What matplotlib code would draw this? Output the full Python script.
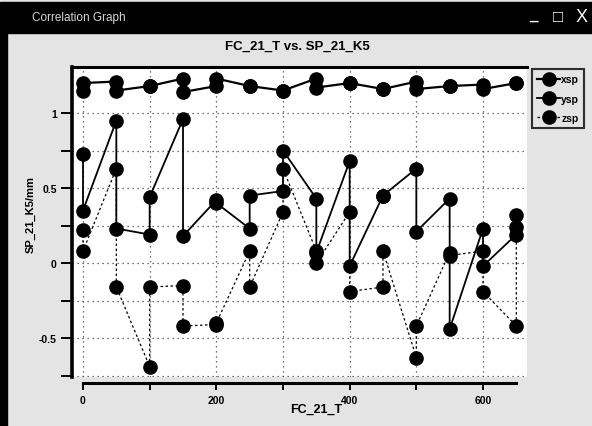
import matplotlib.pyplot as plt
from matplotlib.patches import Rectangle

plt.rcParams['font.family'] = ['Liberation Sans', 'DejaVu Sans']

# FC_21_T values (two samples per temperature step)
fc_t = [0, 0, 50, 50, 100, 100, 150, 150, 200, 200, 250, 250, 300, 300,
        350, 350, 400, 400, 450, 450, 500, 500, 550, 550, 600, 600, 650, 650]

# SP_21_K5 readings per series
xsp = [1.15, 1.20, 1.21, 1.15, 1.18, 1.18, 1.23, 1.14, 1.18, 1.23, 1.18, 1.18, 1.15, 1.15,
       1.23, 1.17, 1.20, 1.20, 1.16, 1.16, 1.21, 1.16, 1.18, 1.18, 1.19, 1.16, 1.20, 1.20]
ysp = [0.73, 0.35, 0.95, 0.23, 0.19, 0.44, 0.96, 0.18, 0.42, 0.40, 0.23, 0.45, 0.48, 0.75,
       0.43, 0.07, 0.68, -0.02, 0.45, 0.45, 0.63, 0.21, 0.43, -0.44, 0.23, -0.02, 0.19, 0.32]
zsp = [0.22, 0.08, 0.63, -0.16, -0.69, -0.16, -0.15, -0.42, -0.41, -0.40, 0.08, -0.16, 0.34, 0.63,
       0.08, 0.00, 0.34, -0.19, -0.16, 0.08, -0.63, -0.42, 0.07, 0.05, 0.08, -0.19, -0.42, 0.24]

x_major = [0, 200, 400, 600]
y_major = [-0.5, 0, 0.5, 1]
y_labels = ['-0.5', '0', '0.5', '1']

W, H = 592, 427
fig = plt.figure(figsize=(W / 100, H / 100), dpi=100, facecolor='#e4e4e4')

# window chrome: title bar, left border, buttons
fig.patches.append(Rectangle((0, 1 - 34 / H), 1, 31 / H, transform=fig.transFigure,
                             color='black', zorder=0))
fig.patches.append(Rectangle((0, 0), 7 / W, 1 - 34 / H, transform=fig.transFigure,
                             color='black', zorder=0))
fig.text(32 / W, 1 - 18 / H, 'Correlation Graph', color='#d8d8d8', fontsize=8.5,
         va='center', ha='left')
fig.text(533 / W, 1 - 16 / H, '_', color='white', fontsize=11, va='center', ha='center',
         fontweight='bold')
fig.text(558 / W, 1 - 18 / H, '\u25a1', color='white', fontsize=12, va='center', ha='center')
fig.text(582 / W, 1 - 18 / H, 'X', color='white', fontsize=13, va='center', ha='center')

ax = fig.add_axes([72 / W, 1 - 378 / H, (527 - 72) / W, (378 - 68) / H])
ax.set_facecolor('white')

# spines first (set_position resets the tick labels)
ax.spines['right'].set_visible(False)
ax.spines['left'].set_linewidth(2.6)
ax.spines['top'].set_linewidth(2.2)
ax.spines['bottom'].set_linewidth(2.2)
ax.spines['bottom'].set_position(('outward', 4))

l1, = ax.plot(fc_t, xsp, color='black', lw=1.6, marker='o', ms=9.5, label='xsp', zorder=3)
l2, = ax.plot(fc_t, ysp, color='black', lw=1.3, marker='o', ms=9.5, label='ysp', zorder=3)
l3, = ax.plot(fc_t, zsp, color='black', lw=0.9, ls=(0, (2, 2)), marker='o', ms=9.5,
              label='zsp', zorder=3)

ax.set_xlim(-16.5, 666)
ax.set_ylim(-0.76, 1.307)
ax.spines['bottom'].set_bounds(0, 650)

ax.set_xticks(x_major)
ax.set_xticklabels([str(v) for v in x_major], fontweight='bold', fontsize=7.5)
ax.set_xticks([100, 300, 500], minor=True)
ax.set_yticks(y_major)
ax.set_yticklabels(y_labels, fontweight='bold', fontsize=7.5)
ax.set_yticks([-0.75, -0.25, 0.25, 0.75], minor=True)
ax.grid(True, which='both', color='#444444', ls=(0, (1, 3)), lw=0.9)

ax.tick_params(axis='y', which='both', direction='out', length=8, width=1.4, pad=3)
ax.tick_params(axis='x', which='both', direction='out', length=5, width=1.4, pad=4)

fig.text(297 / W, 1 - 47 / H, 'FC_21_T vs. SP_21_K5', fontsize=9.5, fontweight='bold',
         ha='center', va='center')
fig.text(316 / W, 1 - 410 / H, 'FC_21_T', fontsize=9, fontweight='bold',
         ha='center', va='center')
fig.text(31 / W, 1 - 215 / H, 'SP_21_K5/mm', fontsize=8, fontweight='bold',
         ha='center', va='center', rotation=90)

leg = fig.legend(handles=[l1, l2, l3], loc='upper left',
                 bbox_to_anchor=(532 / W, 1 - 70 / H), frameon=True, fancybox=False,
                 prop={'weight': 'bold', 'size': 7.5}, handlelength=2.2,
                 handletextpad=0.1, labelspacing=0.9, borderpad=0.5, borderaxespad=0)
leg.get_frame().set_edgecolor('black')
leg.get_frame().set_linewidth(1.5)
leg.get_frame().set_facecolor('#e4e4e4')

fig.savefig('out.png', dpi=100, facecolor=fig.get_facecolor())
